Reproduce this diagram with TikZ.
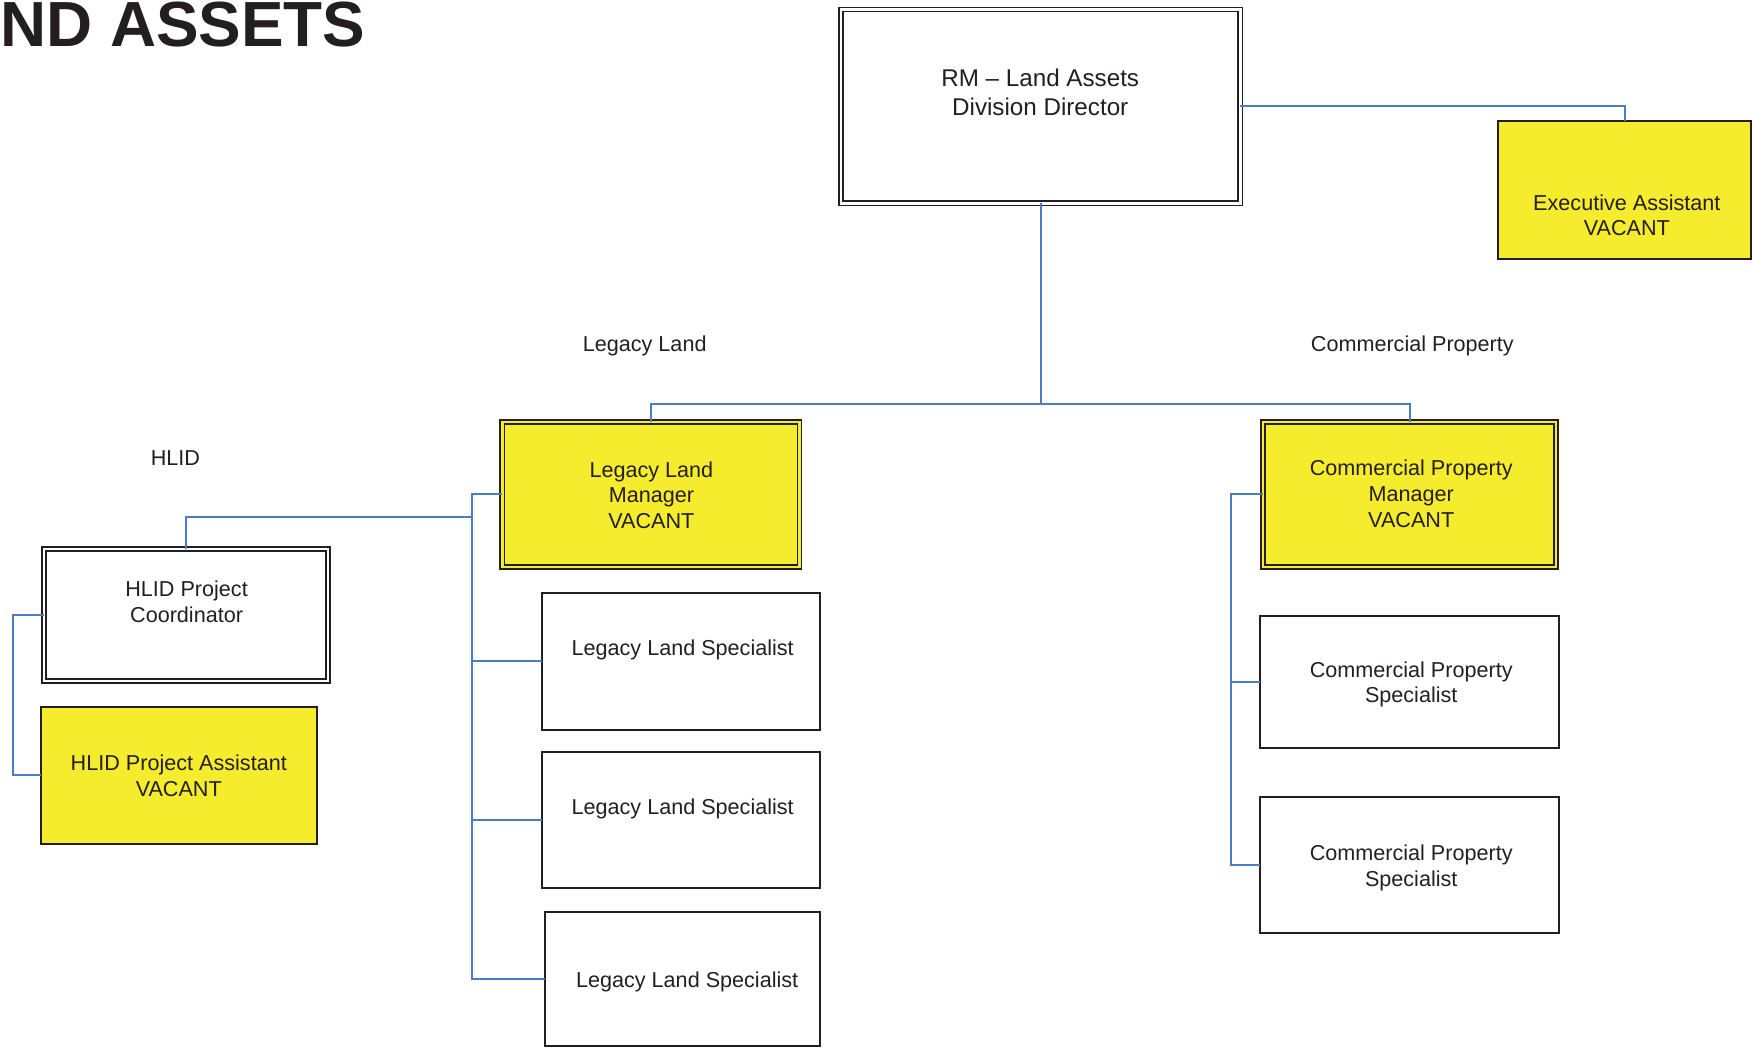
\documentclass[tikz,border=0pt]{standalone}
\usepackage{fontspec}
\setmainfont{Liberation Sans}
\usetikzlibrary{fit}
\definecolor{ink}{HTML}{231F20}
\definecolor{vac}{HTML}{F4EC2C}
\definecolor{wire}{HTML}{4C7DC4}
\tikzset{
  box/.style={draw=ink, line width=2pt, inner sep=0pt, outer sep=0pt},
  dbox/.style={draw=ink, line width=1.6pt, double distance=2.6pt, inner sep=0pt, outer sep=0pt},
  txt/.style={text=ink, align=center, anchor=base, inner sep=0pt, font=\fontsize{21.6}{25.7}\selectfont},
  bigtxt/.style={txt, font=\fontsize{24.2}{29}\selectfont},
  conn/.style={draw=wire, line width=2pt},
}
\begin{document}
\begin{tikzpicture}[x=1.1173pt, y=-1.1173pt]
\useasboundingbox (0,0) rectangle (1568,938);
% title
\node[text=ink, anchor=base west, inner sep=0pt, font=\fontsize{63.8}{70}\selectfont\bfseries] (title) at (0,42) {ND ASSETS};
% boxes
\node[dbox, double=white, fill=white, fit={(752.5,8.5) (1110,182)}] (dir) {};
\node[box, fill=vac, fit={(1341,108) (1567,232)}] (exec) {};
\node[dbox, double=vac, fill=vac, fit={(449.5,377.5) (715.5,507.5)}] (LLM) {};
\node[dbox, double=vac, fill=vac, fit={(1130.5,377.5) (1392.5,507.5)}] (CPM) {};
\node[box, fit={(485,531) (734,653)}] (LLS1) {};
\node[box, fit={(485,673) (734,795)}] (LLS2) {};
\node[box, fit={(488,816) (734,936.5)}] (LLS3) {};
\node[box, fit={(1128,551) (1395,669)}] (CPS1) {};
\node[box, fit={(1128,713) (1395,835)}] (CPS2) {};
\node[dbox, double=white, fill=white, fit={(39.5,491.5) (293.5,609.5)}] (HPC) {};
\node[box, fill=vac, fit={(37,633) (284,755)}] (HPA) {};
% texts (anchor = baseline of the last line)
\node[bigtxt] (tdir) at (931,103) {RM -- Land Assets\\Division Director};
\node[txt] (texec) at (1456,211) {Executive Assistant\\VACANT};
\node[txt] (tLLM) at (583,473) {Legacy Land\\Manager\\VACANT};
\node[txt] (tCPM) at (1263,472) {Commercial Property\\Manager\\VACANT};
\node[txt] (tLLS1) at (611,587) {Legacy Land Specialist};
\node[txt] (tLLS2) at (611,729) {Legacy Land Specialist};
\node[txt] (tLLS3) at (615,884) {Legacy Land Specialist};
\node[txt] (tCPS1) at (1263,629) {Commercial Property\\Specialist};
\node[txt] (tCPS2) at (1263,793) {Commercial Property\\Specialist};
\node[txt] (tHPC) at (167,557) {HLID Project\\Coordinator};
\node[txt] (tHPA) at (160,713) {HLID Project Assistant\\VACANT};
\node[txt] (lLL) at (577,315) {Legacy Land};
\node[txt] (lCP) at (1264,315) {Commercial Property};
\node[txt] (lHL) at (157,417) {HLID};
% connector junctions
\coordinate (hbar) at (0,362);
\coordinate (mb) at (dir.south |- hbar);
\coordinate (llb) at (422,442.5);
\coordinate (hb) at (422,463);
\coordinate (hl) at (12,550.5);
\coordinate (cpb) at (1102,442.5);
% connectors
\draw[conn] (dir.east) -| (exec.north);
\draw[conn] (dir.south) -- (mb);
\draw[conn] (LLM.north) |- (mb) -| (CPM.north);
\draw[conn] (LLM.west) -- (llb) |- (LLS3.west);
\draw[conn] (llb |- LLS1.west) -- (LLS1.west);
\draw[conn] (llb |- LLS2.west) -- (LLS2.west);
\draw[conn] (hb) -| (HPC.north);
\draw[conn] (HPC.west) -- (hl) |- (HPA.west);
\draw[conn] (CPM.west) -- (cpb) |- (CPS2.west);
\draw[conn] (cpb |- CPS1.west) -- (CPS1.west);
\end{tikzpicture}
\end{document}
